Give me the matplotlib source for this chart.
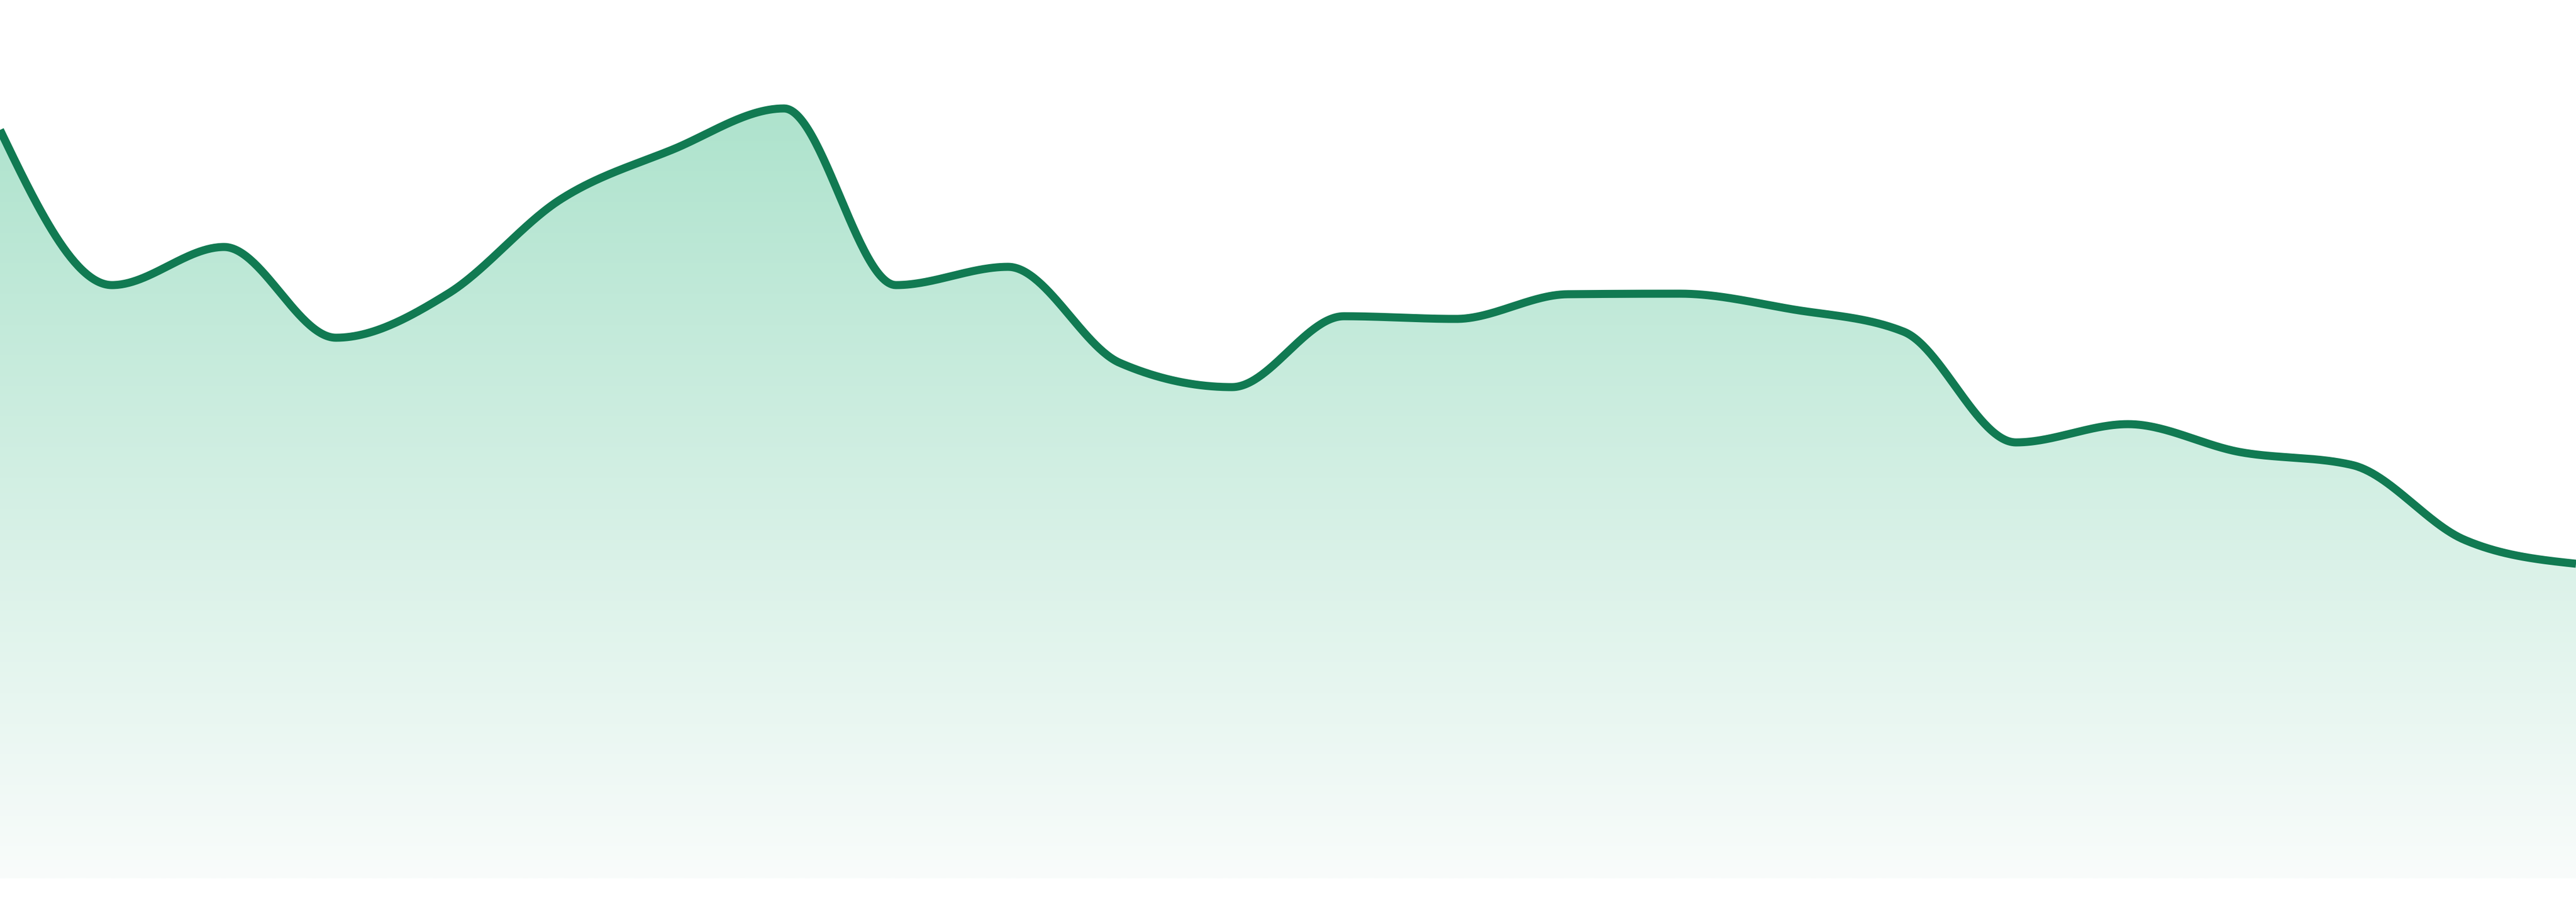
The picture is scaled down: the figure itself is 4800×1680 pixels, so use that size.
import numpy as np
import matplotlib as mpl
mpl.use('Agg')
import matplotlib.pyplot as plt
from matplotlib.patches import Polygon

# values, one per step along x
steps = list(range(24))
values = [139.4, 110.5, 117.6, 100.7, 108.9, 126.4, 135.7, 143.4, 110.5, 113.9,
          96.0, 91.5, 104.7, 104.2, 108.8, 108.9, 106.0, 101.8, 81.2, 84.6,
          79.4, 77.0, 63.1, 58.6]

line_color = '#117a52'
fill_top = np.array([174, 227, 205]) / 255
fill_bottom = np.array([249, 252, 251]) / 255


def monotoneSlopes(x, y):
    # same slope rule as d3 curveMonotoneX
    h = np.diff(x)
    s = np.diff(y) / h
    t = np.zeros(len(x))
    for i in range(1, len(x) - 1):
        s0, s1 = s[i - 1], s[i]
        p = (s0 * h[i] + s1 * h[i - 1]) / (h[i - 1] + h[i])
        t[i] = (np.sign(s0) + np.sign(s1)) * min(abs(s0), abs(s1), 0.5 * abs(p))
    t[0] = (3 * s[0] - t[1]) / 2
    t[-1] = (3 * s[-1] - t[-2]) / 2
    return t


def smoothCurve(x, y, n=60):
    x = np.asarray(x, float)
    y = np.asarray(y, float)
    t = monotoneSlopes(x, y)
    xs, ys = [], []
    for i in range(len(x) - 1):
        dx = (x[i + 1] - x[i]) / 3
        p0 = (x[i], y[i])
        p1 = (x[i] + dx, y[i] + dx * t[i])
        p2 = (x[i + 1] - dx, y[i + 1] - dx * t[i + 1])
        p3 = (x[i + 1], y[i + 1])
        u = np.linspace(0, 1, n, endpoint=(i == len(x) - 2))
        a = (1 - u) ** 3
        b = 3 * (1 - u) ** 2 * u
        c = 3 * (1 - u) * u ** 2
        d = u ** 3
        xs.append(a * p0[0] + b * p1[0] + c * p2[0] + d * p3[0])
        ys.append(a * p0[1] + b * p1[1] + c * p2[1] + d * p3[1])
    return np.concatenate(xs), np.concatenate(ys)


fig = plt.figure(figsize=(16, 5.6), dpi=300, facecolor='white')
ax = fig.add_axes([0, 0, 1, 1])
ax.set_xlim(steps[0], steps[-1])
ax.set_ylim(-4.4, 163.6)
ax.axis('off')

cx, cy = smoothCurve(steps, values)

# gradient fill under the curve
top = max(values)
grad = np.linspace(0, 1, 256)[:, None]
colors = fill_top[None, None, :] * (1 - grad[..., None]) + fill_bottom[None, None, :] * grad[..., None]
colors = np.repeat(colors, 2, axis=1)
img = ax.imshow(colors, extent=(steps[0], steps[-1], 0, top), aspect='auto',
                origin='upper', interpolation='bilinear', zorder=1)
poly_pts = np.column_stack([np.concatenate([cx, [cx[-1], cx[0]]]),
                            np.concatenate([cy, [0, 0]])])
clip = Polygon(poly_pts, closed=True, facecolor='none', edgecolor='none')
ax.add_patch(clip)
img.set_clip_path(clip)

ax.plot(cx, cy, color=line_color, linewidth=3.6, solid_capstyle='butt',
        solid_joinstyle='round', zorder=3)

fig.savefig('out.png', dpi=300, facecolor='white')
